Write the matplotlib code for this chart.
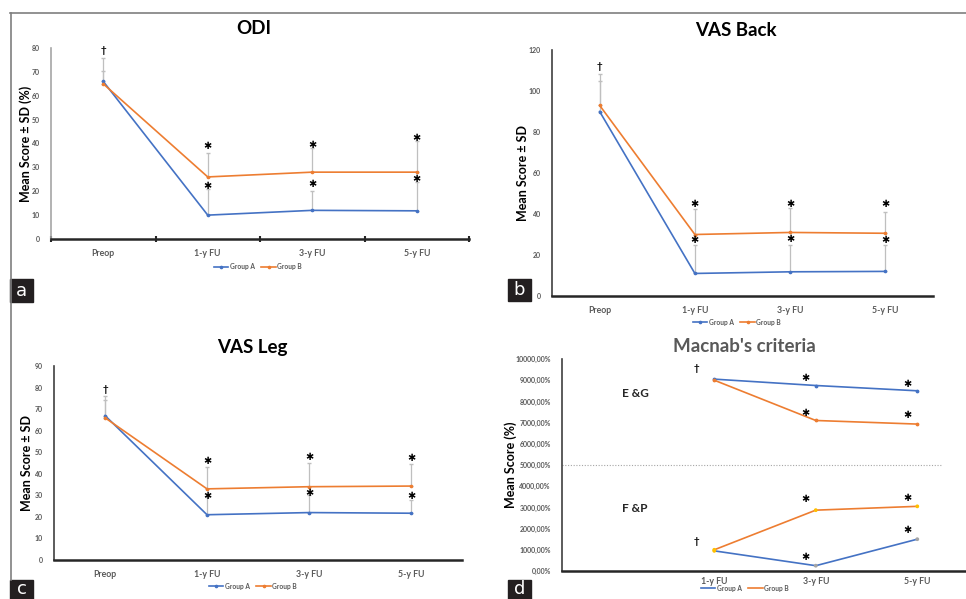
import matplotlib.pyplot as plt
import numpy as np

plt.rcParams['font.family'] = ['Lato', 'DejaVu Sans']

# data
cats = ['Preop', '1-y FU', '3-y FU', '5-y FU']
macnab_cats = ['', '1-y FU', '3-y FU', '5-y FU']

odi_a = [66, 10, 12, 11.8]
odi_b = [65, 26, 28, 28]
odi_sd_a = [10, 11, 8, 12]
odi_sd_b = [5.5, 10, 10, 13]
odi_star_hi = [39, 39.5, 42.5]
odi_star_lo = [22, 23, 25]
odi_dagger = 79

back_a = [90, 11, 11.8, 12]
back_b = [93, 30, 31, 30.6]
back_sd_a = [15, 14, 13, 13]
back_sd_b = [15.5, 12.5, 12, 10.4]
back_star_hi = [45, 45, 45]
back_star_lo = [27.5, 28, 27.5]
back_dagger = 112

leg_a = [67, 21, 22, 21.7]
leg_b = [66, 33, 34, 34.3]
leg_sd_a = [9, 8, 8, 6.3]
leg_sd_b = [8, 10, 11, 10.2]
leg_star_hi = [46, 48, 47.5]
leg_star_lo = [29.5, 31, 29.5]
leg_dagger = 79

eg_a = [9050, 8750, 8500]
eg_b = [9000, 7100, 6930]
fp_a = [950, 250, 1500]
fp_b = [1000, 2870, 3050]
eg_star_a = [9100, 8820]
eg_star_b = [7450, 7360]
fp_star_a = [660, 1930]
fp_star_b = [3400, 3440]
macnab_dagger = [9530, 1410]

BLUE = '#4472C4'
ORANGE = '#ED7D31'
GRAY = '#595959'
W, H = 966, 599

fig = plt.figure(figsize=(W / 100, H / 100), dpi=100)


def px_axes(x0, y0, x1, y1):
    return fig.add_axes([x0 / W, 1 - y1 / H, (x1 - x0) / W, (y1 - y0) / H])


def style(ax, ymax, ystep, ylabel, title, tx, ty, labels, ticks_x=False, title_color='black', ylabfmt=None):
    ax.set_xlim(-0.5, 3.5)
    ax.set_ylim(0, ymax)
    yt = np.arange(0, ymax + 1, ystep)
    ax.set_yticks(yt)
    if ylabfmt:
        ax.set_yticklabels([ylabfmt(v) for v in yt])
    ax.set_xticks(range(4))
    ax.set_xticklabels(labels)
    for s in ['top', 'right']:
        ax.spines[s].set_visible(False)
    ax.spines['bottom'].set_linewidth(1.8)
    ax.spines['bottom'].set_color('#262626')
    ax.spines['left'].set_linewidth(1.2)
    ax.spines['left'].set_color('#404040')
    ax.tick_params(axis='y', length=0, labelsize=5, labelcolor=GRAY, pad=8)
    ax.tick_params(axis='x', length=0, labelsize=6.3, labelcolor=GRAY, pad=7)
    for t in ax.get_xticklabels() + ax.get_yticklabels():
        t.set_fontweight('bold')
    if ticks_x:
        ax.set_xticks(np.arange(-0.5, 4, 1), minor=True)
        ax.tick_params(axis='x', which='minor', length=5, width=1.5, direction='inout', color='#262626')
    ax.set_ylabel(ylabel, fontsize=9, fontweight='bold', labelpad=8)
    fig.text(tx / W, 1 - ty / H, title, fontsize=13.5, fontweight='bold', color=title_color,
             ha='center', va='center')


def score_panel(ax, a, b, sda, sdb, hi, lo, dag):
    x = np.arange(4)
    ax.errorbar(x, a, yerr=[np.zeros(4), sda], fmt='none', ecolor='#BFBFBF', elinewidth=0.9, capsize=1.5, zorder=1)
    ax.errorbar(x, b, yerr=[np.zeros(4), sdb], fmt='none', ecolor='#BFBFBF', elinewidth=0.9, capsize=1.5, zorder=1)
    ax.plot(x, a, color=BLUE, lw=1.2, marker='o', ms=1.6, label='Group A', zorder=3)
    ax.plot(x, b, color=ORANGE, lw=1.2, marker='o', ms=1.6, label='Group B', zorder=3)
    for i in range(3):
        ax.text(i + 1, hi[i], '✱', ha='center', va='center', fontsize=7, family='DejaVu Sans')
        ax.text(i + 1, lo[i], '✱', ha='center', va='center', fontsize=7, family='DejaVu Sans')
    ax.text(0, dag, '†', ha='center', va='center', fontsize=7, fontweight='bold')


def legend(ax, cx, cy):
    ax.legend(loc='center', bbox_to_anchor=(cx / W, 1 - cy / H), bbox_transform=fig.transFigure,
              ncol=2, frameon=False, labelcolor=GRAY, handlelength=2.2,
              handletextpad=0.2, columnspacing=1.0, prop={'weight': 'bold', 'size': 4.8})


# panel a
ax = px_axes(51, 48, 469, 239)
score_panel(ax, odi_a, odi_b, odi_sd_a, odi_sd_b, odi_star_hi, odi_star_lo, odi_dagger)
style(ax, 80, 10, 'Mean Score ± SD (%)', 'ODI', 254, 29, cats, ticks_x=True)
ax.yaxis.set_label_coords(-0.045, 0.5)
ax.spines['left'].set_color('#A6A6A6')
legend(ax, 258, 267)

# panel b
ax = px_axes(552, 50, 933, 296)
score_panel(ax, back_a, back_b, back_sd_a, back_sd_b, back_star_hi, back_star_lo, back_dagger)
style(ax, 120, 20, 'Mean Score ± SD', 'VAS Back', 736, 30, cats)
ax.yaxis.set_label_coords(-0.06, 0.5)
legend(ax, 737, 322)

# panel c
ax = px_axes(54, 366, 462, 560)
score_panel(ax, leg_a, leg_b, leg_sd_a, leg_sd_b, leg_star_hi, leg_star_lo, leg_dagger)
style(ax, 90, 10, 'Mean Score ± SD', 'VAS Leg', 252, 347, cats)
ax.yaxis.set_label_coords(-0.051, 0.5)
legend(ax, 253, 586)

# panel d
ax = px_axes(562, 359, 966, 571)
xs = np.arange(1, 4)
ax.axhline(5000, xmax=0.94, color='#A6A6A6', lw=0.8, ls=(0, (1, 1.5)))
ax.plot(xs, eg_a, color=BLUE, lw=1.2, label='Group A')
ax.plot(xs, eg_b, color=ORANGE, lw=1.2, label='Group B')
ax.plot(xs, fp_a, color=BLUE, lw=1.2)
ax.plot(xs, fp_b, color=ORANGE, lw=1.2)
ax.scatter(xs, eg_a, s=3, color=BLUE, zorder=3)
ax.scatter(xs, eg_b, s=3, color=ORANGE, zorder=3)
ax.scatter(xs, fp_a, s=3, color=['#FFC000', '#A5A5A5', '#A5A5A5'], zorder=3)
ax.scatter(xs, fp_b, s=3, color=['#FFC000', '#FFC000', '#FFC000'], zorder=3)
for i in range(2):
    for yv in (eg_star_a[i], eg_star_b[i], fp_star_a[i], fp_star_b[i]):
        ax.text(i + 1.9, yv, '✱', ha='center', va='center', fontsize=7, family='DejaVu Sans')
for yv in macnab_dagger:
    ax.text(0.82, yv, '†', ha='center', va='center', fontsize=7, fontweight='bold')
ax.text(0.09, 8350, 'E &G', ha='left', va='center', fontsize=8.5, fontweight='bold', color='#262626')
ax.text(0.09, 2970, 'F &P', ha='left', va='center', fontsize=8.5, fontweight='bold', color='#262626')
style(ax, 10000, 1000, 'Mean Score (%)', "Macnab's criteria", 744, 347, macnab_cats,
      title_color=GRAY, ylabfmt=lambda v: f'{int(v)},00%')
ax.set_xlim(-0.5, 3.48)
ax.tick_params(axis='x', pad=4)
ax.yaxis.set_label_coords(-0.111, 0.5)
legend(ax, 745, 588)

# panel frame lines
fig.add_artist(plt.Line2D([10 / W, 1], [1 - 13 / H, 1 - 13 / H], color='#7F7F7F', lw=1.2))
fig.add_artist(plt.Line2D([11 / W, 11 / W], [1 - 13 / H, 1 - 580 / H], color='#7F7F7F', lw=1.2))

# panel letters
for letter, x0, y0, y1 in [('a', 10, 279, 302), ('b', 508, 279, 301), ('c', 10, 580, 599), ('d', 508, 580, 599)]:
    fig.add_artist(plt.Rectangle((x0 / W, 1 - y1 / H), 23 / W, (y1 - y0) / H, color='#231F20',
                                 transform=fig.transFigure))
    fig.text((x0 + 11.5) / W, 1 - (y0 + y1) / 2 / H, letter, color='white', fontsize=13,
             ha='center', va='center', family='DejaVu Sans')

fig.savefig('out.png', dpi=100)
